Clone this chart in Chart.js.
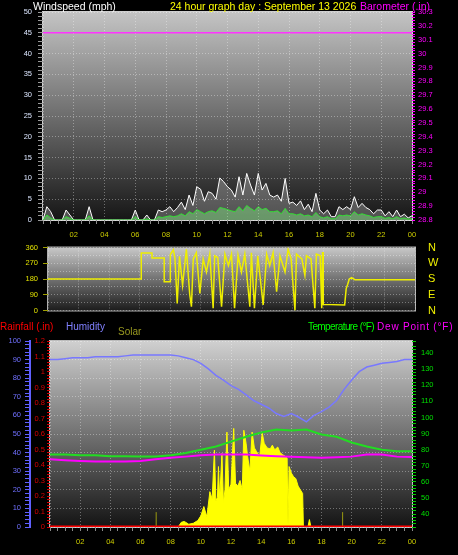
<!DOCTYPE html>
<html>
<head>
<meta charset="utf-8">
<title>24 hour graph</title>
<script src="https://cdn.jsdelivr.net/npm/chart.js@4.4.1/dist/chart.umd.min.js"></script>
<style>
  html, body { margin: 0; padding: 0; background: #000; }
  body { position: relative; width: 458px; height: 555px; overflow: hidden; font-family: "Liberation Sans", Arial, sans-serif; }
  canvas { position: absolute; left: 0; }
  .cap { position: absolute; white-space: nowrap; line-height: 1; z-index: 2; }
  .title { font-size: 10.5px; top: 1px; }
  .legend { font-size: 10px; top: 322px; }
</style>
</head>
<body>
<div class="cap title" style="left:33px;color:#ffffff">Windspeed (mph)</div>
<div class="cap title" style="left:170px;color:#ffff00">24 hour graph day : September 13 2026</div>
<div class="cap title" style="left:360px;color:#ff00ff">Barometer (.in)</div>
<div class="cap legend" style="left:0;color:#ff0000">Rainfall (.in)</div>
<div class="cap legend" style="left:66px;color:#8080ff">Humidity</div>
<div class="cap legend" style="left:118px;top:327px;color:#999920">Solar</div>
<div class="cap legend" style="left:308px;color:#00ff00;letter-spacing:-0.6px">Temperature (°F)</div>
<div class="cap legend" style="left:377px;color:#ff00ff;letter-spacing:0.8px">Dew Point (°F)</div>

<canvas id="windChart" width="458" height="240" style="top:0"></canvas>
<canvas id="dirChart" width="458" height="82" style="top:238px"></canvas>
<canvas id="climateChart" width="458" height="237" style="top:318px"></canvas>

<script>
Chart.defaults.font.family = '"Liberation Sans", Arial, sans-serif';

// wind, one reading every 15 minutes from 00:00 to 24:00 (mph)
const windStepHours = 0.25;
const windGust = [
  0, 3.2, 2.0, 0,   0, 0, 2.4, 1.2,   0, 0, 0, 0,   3.2, 0, 0, 0,
  0, 0, 0, 0,       0, 0, 0, 0,       2.4, 0, 0, 1.2, 0, 0, 2.4, 2.0,
  2.4, 3.2, 2.0, 3.0, 4.3, 2.5, 6.0, 3.5, 8.0, 7.4, 4.5, 6.8, 6.4, 5.0, 10.1, 9.2,
  8.0, 7.2, 5.5, 10.4, 6.0, 11.2, 8.4, 6.0, 11.2, 7.2, 8.8, 6.0, 5.5, 6.0, 4.5, 10.0,
  4.0, 4.3, 3.5, 4.6, 2.5, 3.8, 2.0, 6.4, 2.4, 1.5, 2.4, 0.8, 0.8, 3.2, 2.5, 3.2,
  2.5, 5.6, 3.0, 4.0, 3.0, 2.5, 1.5, 2.4, 2.4, 1.0, 2.0, 0.8, 2.4, 0.8, 1.4, 0.5,
  1.0
];
const windAverage = [
  0, 1.2, 0.5, 0,   0, 0, 0.8, 0.4,   0, 0, 0, 0,   1.0, 0, 0, 0,
  0, 0, 0, 0,       0, 0, 0, 0,       0.8, 0, 0, 0.3, 0, 0, 0.8, 0.6,
  0.8, 1.0, 0.8, 1.0, 1.5, 1.0, 2.0, 1.5, 2.5, 2.0, 1.5, 2.0, 2.2, 1.8, 3.0, 2.8,
  2.5, 2.2, 2.0, 3.2, 2.2, 3.5, 2.8, 2.2, 3.2, 2.5, 2.8, 2.0, 2.0, 2.2, 1.5, 2.8,
  1.5, 1.5, 1.2, 1.5, 1.0, 1.2, 0.8, 1.8, 0.8, 0.5, 0.8, 0.3, 0.3, 1.2, 1.0, 1.2,
  1.0, 2.0, 1.2, 1.5, 1.2, 1.0, 0.6, 0.8, 0.8, 0.4, 0.6, 0.3, 0.8, 0.3, 0.5, 0.2,
  0.3
];

// hourly readings 00:00 .. 24:00
const hourlyStep = 1;
const barometer = [
  30.15, 30.15, 30.15, 30.15, 30.15, 30.15, 30.15, 30.15, 30.15, 30.15, 30.15, 30.15, 30.15,
  30.15, 30.15, 30.15, 30.15, 30.15, 30.15, 30.15, 30.15, 30.15, 30.15, 30.15, 30.15
];
const temperature = [77, 77, 76.5, 76.5, 76, 76, 75.8, 75.8, 76.5, 78, 80, 82, 85,
  88, 90.7, 92.6, 92, 92.5, 89.5, 88, 84.5, 82, 80, 79, 79];
const dewPoint = [74, 73.5, 73, 72.6, 72.6, 72.6, 73, 74, 75, 75.7, 76.5, 77, 77,
  77, 76.4, 76, 75.7, 75.3, 75, 75.3, 75.7, 77, 77, 75.7, 75.5];
const rainfall = [0, 0, 0, 0, 0, 0, 0, 0, 0, 0, 0, 0, 0, 0, 0, 0, 0, 0, 0, 0, 0, 0, 0, 0, 0];

// humidity every 30 minutes (%)
const humidityStep = 0.5;
const humidity = [
  90, 90, 90.5, 91, 91, 91, 91.5, 91.5, 91.5, 91.5, 92, 92.5, 92.5, 92.5, 92.5, 92.5,
  92.5, 92, 91, 90, 88, 85, 81.5, 79, 76, 74, 71, 68, 66, 64, 61, 59.5,
  61, 59, 56.5, 60, 62, 64.5, 68, 74, 79, 83.5, 86, 87, 88, 88.5, 89, 90,
  90
];

// wind direction (hour of day, degrees)
const dirHours = [
  0, 6.1, 6.1, 6.8, 6.8, 7.6, 7.6, 8.0, 8.0, 8.2,
  8.3, 8.45, 8.6, 8.8, 9.05, 9.27, 9.38, 9.5, 9.7, 9.93,
  10.15, 10.36, 10.58, 10.8, 10.9, 11.1, 11.35, 11.57, 11.8, 12.0,
  12.2, 12.43, 12.65, 12.87, 13.2, 13.3, 13.5, 13.72, 14.07, 14.3,
  14.5, 14.72, 14.95, 15.17, 15.5, 15.7, 15.9, 16.15, 16.25, 16.6,
  16.8, 16.9, 17.2, 17.45, 17.55, 17.8, 17.9, 17.95, 18.0, 18.0,
  19.4, 19.5, 19.6, 19.7, 19.85, 20.07, 24
];
const dirDegrees = [
  180, 180, 328, 328, 300, 300, 165, 165, 320, 347,
  300, 40, 310, 145, 350, 90, 22, 295, 330, 97,
  295, 220, 322, 13, 313, 303, 22, 322, 257, 322,
  13, 315, 220, 322, 22, 330, 13, 313, 32, 322,
  257, 330, 107, 313, 220, 350, 295, 0, 322, 295,
  200, 313, 295, 13, 322, 313, 13, 330, 330, 35,
  32, 125, 150, 180, 188, 176, 175
];
const compassLabels = ['N', 'E', 'S', 'W', 'N'];

// solar radiation (hour of day, W/m2)
const solarHours = [
  0, 8.5, 8.7, 8.9, 9.2, 9.5, 9.8, 10.0, 10.2, 10.4, 10.6,
  10.75, 10.9, 11.0, 11.1, 11.17, 11.25, 11.4, 11.5, 11.6, 11.73,
  11.85, 12.0, 12.18, 12.3, 12.45, 12.6, 12.75, 12.85, 13.0, 13.1,
  13.25, 13.4, 13.55, 13.7, 13.9, 14.07, 14.2, 14.4, 14.6, 14.74,
  14.9, 15.1, 15.25, 15.4, 15.6, 15.72, 15.78, 15.85, 16.0, 16.15,
  16.3, 16.45, 16.6, 16.75, 16.8, 17.1, 17.2, 17.3, 24
];
const solar = [
  0, 0, 25, 30, 15, 20, 35, 60, 110, 55, 190,
  150, 413, 140, 160, 325, 150, 395, 130, 200, 510,
  200, 230, 530, 235, 220, 250, 200, 520, 450, 380,
  300, 510, 425, 405, 380, 505, 450, 425, 420, 440,
  415, 430, 400, 390, 380, 370, 10, 325, 290, 270,
  260, 220, 200, 180, 0, 0, 40, 0, 0
];
// sunrise / sunset markers
const sunMarkHours = [7.04, 19.4];
const sunMarkHeight = 80;

const evenSeries = (values, step) => values.map((v, i) => ({ x: i * step, y: v }));
const pairSeries = (hours, values) => hours.map((h, i) => ({ x: h, y: values[i] }));
const hourTick = v => (v > 0 && v % 2 === 0) ? String(v % 24).padStart(2, '0') : '';
const dots = 'rgba(255,255,255,0.35)';

const plotBackground = {
  id: 'plotBackground',
  beforeDraw(chart, args, opts) {
    const { ctx, chartArea: a } = chart;
    const g = ctx.createLinearGradient(0, a.top, 0, a.bottom);
    g.addColorStop(0, opts.top);
    g.addColorStop(1, opts.bottom);
    ctx.save();
    ctx.fillStyle = g;
    ctx.fillRect(a.left, a.top, a.right - a.left, a.bottom - a.top);
    ctx.strokeStyle = opts.frame;
    ctx.lineWidth = 1;
    ctx.strokeRect(a.left - 0.5, a.top - 0.5, a.right - a.left + 1, a.bottom - a.top + 1);
    ctx.restore();
  }
};

const baseOptions = {
  responsive: false,
  animation: false,
  events: [],
  elements: { point: { radius: 0 }, line: { tension: 0 } },
};

function hourAxis(height, showLabels) {
  return {
    type: 'linear', min: 0, max: 24,
    afterFit: s => { s.height = height; },
    border: { display: false, dash: [1, 2] },
    grid: {
      color: c => (c.tick && c.tick.value % 2 === 0) ? dots : 'transparent',
      tickColor: showLabels ? '#8a8a8a' : 'transparent',
      tickLength: 4,
      drawTicks: showLabels
    },
    ticks: {
      display: showLabels, stepSize: 0.5, autoSkip: false, maxRotation: 0,
      color: '#cccc00', font: { size: 7.5 }, padding: 6, callback: hourTick
    }
  };
}

// ---- wind speed and barometer ----
new Chart(document.getElementById('windChart'), {
  type: 'line',
  data: {
    datasets: [
      { data: evenSeries(barometer, hourlyStep), yAxisID: 'baro', borderColor: '#ff33ff', borderWidth: 1.5 },
      { data: evenSeries(windAverage, windStepHours), yAxisID: 'y', borderColor: '#33dd33', borderWidth: 1,
        fill: 'origin', backgroundColor: 'rgba(140,255,140,0.4)' },
      { data: evenSeries(windGust, windStepHours), yAxisID: 'y', borderColor: '#ffffff', borderWidth: 1,
        fill: 'origin', backgroundColor: 'rgba(255,255,255,0.25)' }
    ]
  },
  options: Object.assign({}, baseOptions, {
    layout: { padding: { top: 12, left: 0, right: 0, bottom: 0 } },
    plugins: { legend: { display: false }, tooltip: { enabled: false },
      plotBackground: { top: '#c4c4c4', bottom: '#161616', frame: '#d0d0d0' } },
    scales: {
      x: hourAxis(20, true),
      y: {
        position: 'left', min: 0, max: 50,
        afterFit: s => { s.width = 43; },
        border: { display: false, dash: [1, 2] },
        grid: { color: c => (c.tick && c.tick.value % 5 === 0) ? dots : 'transparent', tickColor: '#9a9a9a', tickLength: 5 },
        ticks: { stepSize: 1, autoSkip: false, color: '#dce6ff', font: { size: 7.5 }, padding: 6,
          callback: v => v % 5 === 0 ? v : '' }
      },
      baro: {
        position: 'right', min: 28.8, max: 30.3,
        afterFit: s => { s.width = 46; },
        border: { display: false },
        grid: { drawOnChartArea: false, tickColor: '#ff00ff', tickLength: 3 },
        ticks: { stepSize: 0.02, autoSkip: false, color: '#ff00ff', font: { size: 7.5 }, padding: 3,
          callback: v => Math.round(v * 100) % 10 === 0 ? String(Math.round(v * 10) / 10) : '' }
      }
    }
  }),
  plugins: [plotBackground]
});

// ---- wind direction ----
// the plot top/bottom come from the tick label overflow (half a label + padding)
new Chart(document.getElementById('dirChart'), {
  type: 'line',
  data: {
    datasets: [
      { data: pairSeries(dirHours, dirDegrees), yAxisID: 'y', borderColor: '#eeee00', borderWidth: 1.5 }
    ]
  },
  options: Object.assign({}, baseOptions, {
    layout: { padding: 0 },
    plugins: { legend: { display: false }, tooltip: { enabled: false },
      plotBackground: { top: '#c8c8c8', bottom: '#1c1c1c', frame: '#b0b0b0' } },
    scales: {
      x: hourAxis(0, false),
      y: {
        position: 'left', min: 0, max: 360,
        afterFit: s => { s.width = 48; },
        border: { display: false, dash: [1, 2] },
        grid: { color: dots, tickColor: c => (c.tick && c.tick.value % 90 === 0) ? '#a0a000' : 'transparent', tickLength: 5 },
        ticks: { stepSize: 45, autoSkip: false, color: '#e0e000', font: { size: 7.5 }, padding: 5,
          callback: v => v % 90 === 0 ? v : '' }
      },
      compass: {
        position: 'right', min: 0, max: 360,
        afterFit: s => { s.width = 43; },
        border: { display: false },
        // tick marks are hidden; their length only pushes the letters right
        grid: { display: false, drawTicks: true, tickLength: 13 },
        ticks: { stepSize: 90, autoSkip: false, color: '#f0f000', font: { size: 11 }, padding: 0,
          callback: v => compassLabels[v / 90] }
      }
    }
  }),
  plugins: [plotBackground]
});

// ---- rain, humidity, solar, temperature, dew point ----
const sunMarkSets = sunMarkHours.map(h => ({
  data: [{ x: h, y: 0 }, { x: h, y: sunMarkHeight }],
  yAxisID: 'solar', borderColor: '#9a9a10', borderWidth: 1
}));

new Chart(document.getElementById('climateChart'), {
  type: 'line',
  data: {
    datasets: [
      { data: evenSeries(rainfall, hourlyStep), yAxisID: 'rain', borderColor: '#ff0000', borderWidth: 3 },
      ...sunMarkSets,
      { data: evenSeries(dewPoint, hourlyStep), yAxisID: 'temp', borderColor: '#ff00ff', borderWidth: 2 },
      { data: evenSeries(temperature, hourlyStep), yAxisID: 'temp', borderColor: '#22dd22', borderWidth: 2 },
      { data: evenSeries(humidity, humidityStep), yAxisID: 'humidity', borderColor: '#7878ff', borderWidth: 1.5 },
      { data: pairSeries(solarHours, solar), yAxisID: 'solar', borderColor: '#ffff00', borderWidth: 1,
        fill: 'origin', backgroundColor: '#ffff00' }
    ]
  },
  options: Object.assign({}, baseOptions, {
    layout: { padding: { top: 23, left: 0, right: 0, bottom: 0 } },
    plugins: { legend: { display: false }, tooltip: { enabled: false },
      plotBackground: { top: '#d0d0d0', bottom: '#141414', frame: '#bcbcbc' } },
    scales: {
      x: hourAxis(28, true),
      rain: {
        position: 'left', weight: 0, min: 0, max: 1.2,
        afterFit: s => { s.width = 20; },
        border: { display: false },
        grid: { drawOnChartArea: false, tickColor: '#dd0000', tickLength: 3 },
        ticks: { stepSize: 0.02, autoSkip: false, color: '#dd0000', font: { size: 7.5 }, padding: 2,
          callback: v => Math.round(v * 100) % 10 === 0 ? String(Math.round(v * 10) / 10) : '' }
      },
      humidity: {
        position: 'left', weight: 1, min: 0, max: 100,
        afterFit: s => { s.width = 30; },
        border: { display: true, color: '#6060ff', width: 2, dash: [1, 2] },
        grid: { color: c => (c.tick && c.tick.value % 10 === 0) ? dots : 'transparent', tickColor: '#6060ff', tickLength: 5 },
        ticks: { stepSize: 2, autoSkip: false, color: '#7070ff', font: { size: 7.5 }, padding: 4,
          callback: v => v % 10 === 0 ? v : '' }
      },
      temp: {
        position: 'right', min: 32, max: 147.5,
        afterFit: s => { s.width = 46; },
        border: { display: false },
        grid: { drawOnChartArea: false, tickColor: '#00cc00', tickLength: 4 },
        ticks: { stepSize: 2, autoSkip: false, color: '#00e000', font: { size: 7.5 }, padding: 5,
          callback: v => (v % 10 === 0 && v >= 40 && v <= 140) ? v : '' }
      },
      solar: { display: false, min: 0, max: 1000 }
    }
  }),
  plugins: [plotBackground]
});
</script>
</body>
</html>
